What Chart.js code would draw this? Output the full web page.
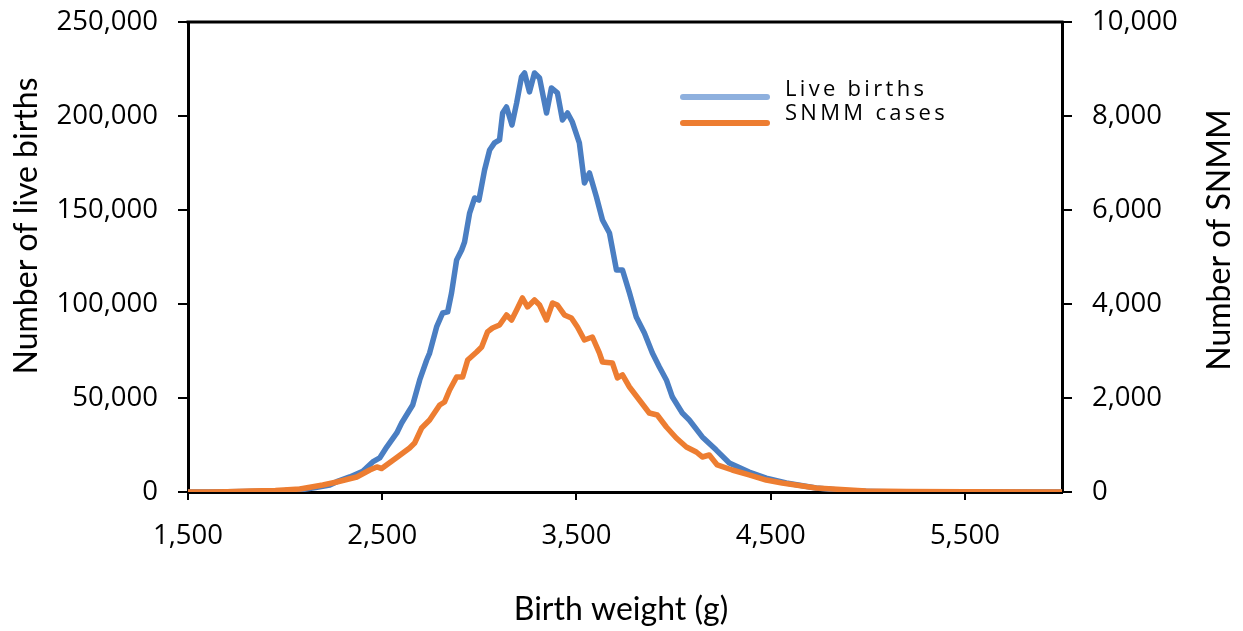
<!DOCTYPE html>
<html>
<head>
<meta charset="utf-8">
<title>Live births and SNMM by birth weight</title>
<script src="https://cdn.jsdelivr.net/npm/chart.js@4.4.1/dist/chart.umd.min.js"></script>
<style>
  body { margin: 0; background: #fff; }
  #wrap { width: 1243px; height: 631px; position: relative; }
</style>
</head>
<body>
<div id="wrap"><canvas id="chart"></canvas></div>
<script>
// live births by birth weight (left axis)
const lbWeights = [1500, 1600, 1700, 1800, 1900, 2000, 2100, 2150, 2230, 2266, 2333, 2400, 2451, 2487, 2523,
  2575, 2600, 2641, 2657, 2693, 2729, 2744, 2780, 2811, 2837, 2857, 2883, 2909, 2924, 2950, 2976, 2998,
  3027, 3053, 3078, 3104, 3120, 3140, 3168, 3192, 3217, 3233, 3258, 3284, 3310, 3346, 3371, 3402, 3428,
  3454, 3479, 3515, 3541, 3567, 3603, 3634, 3670, 3706, 3737, 3773, 3808, 3850, 3891, 3927, 3963, 3994,
  4045, 4081, 4148, 4220, 4287, 4389, 4477, 4580, 4734, 4904, 5100, 5300, 6000];
const liveBirths = [0, 0, 100, 200, 400, 800, 1500, 2200, 3700, 5500, 8000, 11000, 16000, 18100, 23900,
  31400, 36700, 43600, 46300, 59600, 70200, 73900, 87800, 95200, 95800, 105900, 123400, 128700, 133000, 148400, 156400, 155300,
  171300, 181900, 185700, 187300, 201600, 204800, 195200, 206900, 220800, 222900, 212800, 222900, 220200, 201600, 214900, 212300, 197900,
  201600, 196800, 185700, 164400, 169700, 156900, 144700, 137800, 118100, 118100, 105900, 93100, 84600, 73900, 66500, 59600, 50500,
  42000, 38300, 29300, 22300, 15400, 10600, 7400, 4800, 2100, 500, 100, 0, 0];

// SNMM cases by birth weight (right axis)
const snmmWeights = [1500, 1600, 1700, 1819, 1950, 2076, 2194, 2266, 2369, 2436, 2472, 2497, 2575, 2641, 2667,
  2703, 2744, 2796, 2821, 2847, 2883, 2914, 2940, 2986, 3012, 3042, 3068, 3104, 3140, 3166, 3192, 3222,
  3248, 3284, 3310, 3346, 3377, 3402, 3438, 3474, 3505, 3541, 3582, 3618, 3634, 3685, 3711, 3737, 3773,
  3824, 3875, 3916, 3963, 4014, 4066, 4117, 4148, 4184, 4225, 4302, 4389, 4477, 4559, 4734, 4991, 5200, 5500, 6000];
const snmmCases = [0, 0, 5, 21, 30, 64, 149, 213, 319, 468, 532, 500, 735, 936, 1043,
  1362, 1532, 1851, 1915, 2171, 2447, 2447, 2809, 2979, 3086, 3405, 3490, 3554, 3767, 3660, 3873, 4128,
  3937, 4086, 3979, 3660, 4022, 3979, 3767, 3703, 3511, 3235, 3298, 2958, 2766, 2745, 2426, 2490, 2234,
  1958, 1681, 1639, 1383, 1149, 958, 851, 745, 787, 575, 468, 362, 255, 191, 85, 21, 12, 6, 0];

const xTicks = [1500, 2500, 3500, 4500, 5500];
const seriesNames = ['Live births', 'SNMM cases'];
const lineColors = ['#4a7ec2', '#ed7d31'];
const legendColors = ['#8eb0de', '#ed7d31'];

const tickFont = { family: 'Open Sans', size: 27.5 };
const fmt = v => Number(v).toLocaleString('en-US');

// keep label overflow from pushing the plot area around
const noPad = s => { s.paddingTop = 0; s.paddingBottom = 0; s.paddingLeft = 0; s.paddingRight = 0; };

// frame top line, axis titles and the legend
const decorations = {
  id: 'decorations',
  afterDraw(chart) {
    const { ctx, chartArea } = chart;
    ctx.save();
    ctx.strokeStyle = '#000';
    ctx.lineWidth = 3;
    ctx.beginPath();
    ctx.moveTo(chartArea.left - 1.5, chartArea.top);
    ctx.lineTo(chartArea.right + 1.5, chartArea.top);
    ctx.stroke();

    ctx.fillStyle = '#000';
    ctx.font = '32px Lato';
    ctx.textAlign = 'center';
    ctx.textBaseline = 'alphabetic';
    ctx.fillText('Birth weight (g)', 621, 620);

    ctx.save();
    ctx.translate(37, 226);
    ctx.rotate(-Math.PI / 2);
    ctx.fillText('Number of live births', 0, 0);
    ctx.restore();

    ctx.save();
    ctx.translate(1230, 240);
    ctx.rotate(-Math.PI / 2);
    ctx.fillText('Number of SNMM', 0, 0);
    ctx.restore();

    // legend
    ctx.lineCap = 'round';
    ctx.lineWidth = 6;
    ctx.textAlign = 'left';
    ctx.font = '22px "Open Sans"';
    ctx.letterSpacing = '3.3px';
    const rows = [97, 123];
    const baselines = [96, 120];
    seriesNames.forEach((name, i) => {
      ctx.strokeStyle = legendColors[i];
      ctx.beginPath();
      ctx.moveTo(683, rows[i]);
      ctx.lineTo(767, rows[i]);
      ctx.stroke();
      ctx.fillText(name, 785, baselines[i]);
    });
    ctx.restore();
  }
};

new Chart(document.getElementById('chart'), {
  type: 'line',
  data: {
    datasets: [
      {
        label: seriesNames[0],
        data: lbWeights.map((w, i) => ({ x: w, y: liveBirths[i] })),
        yAxisID: 'y',
        borderColor: lineColors[0],
        borderWidth: 5.5,
        borderJoinStyle: 'round',
        pointRadius: 0,
        tension: 0,
        order: 1
      },
      {
        label: seriesNames[1],
        data: snmmWeights.map((w, i) => ({ x: w, y: snmmCases[i] })),
        yAxisID: 'y1',
        borderColor: lineColors[1],
        borderWidth: 5.5,
        borderJoinStyle: 'round',
        pointRadius: 0,
        tension: 0,
        order: 0
      }
    ]
  },
  options: {
    responsive: true,
    maintainAspectRatio: false,
    animation: false,
    layout: { padding: { top: 22, left: 0, right: 0, bottom: 0 } },
    plugins: { legend: { display: false }, tooltip: { enabled: false } },
    scales: {
      x: {
        type: 'linear',
        min: 1500,
        max: 6000,
        afterBuildTicks: s => { s.ticks = xTicks.map(v => ({ value: v })); },
        afterFit: s => { s.height = 139; noPad(s); },
        grid: { drawOnChartArea: false, tickLength: 8, color: '#000', lineWidth: 2 },
        border: { color: '#000', width: 3 },
        ticks: { font: tickFont, color: '#000', padding: 20, maxRotation: 0, callback: fmt }
      },
      y: {
        position: 'left',
        min: 0,
        max: 250000,
        ticks: { stepSize: 50000, font: tickFont, color: '#000', padding: 20, callback: fmt },
        afterFit: s => { s.width = 188; noPad(s); },
        grid: { drawOnChartArea: false, tickLength: 10, color: '#000', lineWidth: 2 },
        border: { color: '#000', width: 3 }
      },
      y1: {
        position: 'right',
        min: 0,
        max: 10000,
        ticks: { stepSize: 2000, font: tickFont, color: '#000', padding: 20, callback: fmt },
        afterFit: s => { s.width = 181; noPad(s); },
        grid: { drawOnChartArea: false, tickLength: 10, color: '#000', lineWidth: 2 },
        border: { color: '#000', width: 3 }
      }
    }
  },
  plugins: [decorations]
});
</script>
</body>
</html>
